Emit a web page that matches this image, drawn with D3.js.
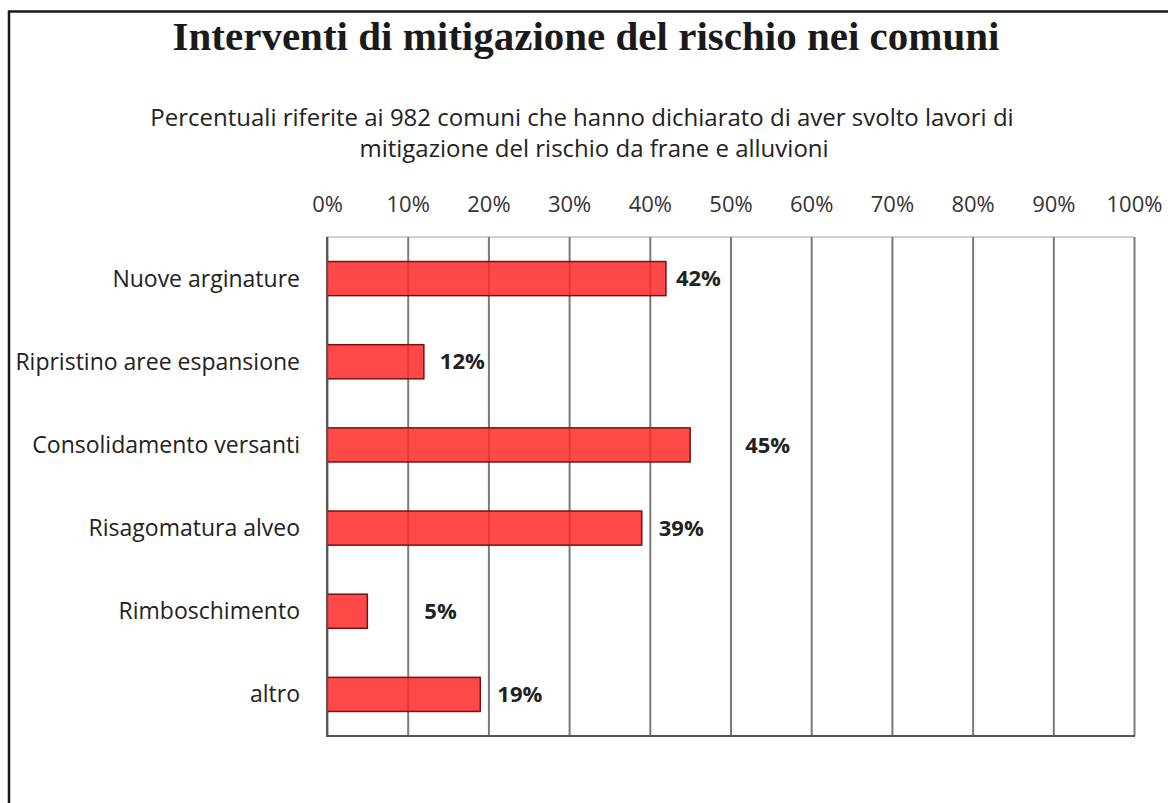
<!DOCTYPE html>
<html>
<head>
<meta charset="utf-8">
<script src="https://cdn.jsdelivr.net/npm/d3@7"></script>
<style>
  body { margin: 0; background: #fff; }
  svg { display: block; }
</style>
</head>
<body>
<svg id="chart"></svg>
<script>
// chart data
const categories = ["Nuove arginature", "Ripristino aree espansione", "Consolidamento versanti",
                    "Risagomatura alveo", "Rimboschimento", "altro"];
const values = [42, 12, 45, 39, 5, 19];
const tickValues = [0, 10, 20, 30, 40, 50, 60, 70, 80, 90, 100];

// label nudges to the right of each bar end (layout only)
const labelDx = [10, 16, 55, 17, 57, 17];

const width = 1168, height = 803;
const plot = { left: 327, right: 1134, top: 237, bottom: 736 };

const svg = d3.select("#chart")
    .attr("width", width)
    .attr("height", height);

svg.append("rect").attr("width", width).attr("height", height).attr("fill", "#fff");

// outer frame (left + top edge visible)
svg.append("path")
    .attr("d", `M9,${height + 5} L9,11.5 L${width + 5},11.5`)
    .attr("fill", "none")
    .attr("stroke", "#1a1a1a")
    .attr("stroke-width", 2.5);

// title
svg.append("text")
    .attr("x", 586)
    .attr("y", 50)
    .attr("text-anchor", "middle")
    .attr("font-family", "'Liberation Serif', serif")
    .attr("font-weight", "bold")
    .attr("font-size", 41)
    .attr("fill", "#1a1a1a")
    .text("Interventi di mitigazione del rischio nei comuni");

// subtitle
const sub = svg.append("text")
    .attr("text-anchor", "middle")
    .attr("font-family", "'Open Sans', sans-serif")
    .attr("font-size", 24)
    .attr("fill", "#222");
sub.append("tspan").attr("x", 582).attr("y", 126)
    .text("Percentuali riferite ai 982 comuni che hanno dichiarato di aver svolto lavori di");
sub.append("tspan").attr("x", 594).attr("y", 157)
    .text("mitigazione del rischio da frane e alluvioni");

// scales
const x = d3.scaleLinear()
    .domain([0, 100])
    .range([plot.left, plot.right]);

const y = d3.scaleBand()
    .domain(categories)
    .range([plot.top, plot.bottom])
    .paddingInner(0.59)
    .paddingOuter(0.295);

// top border of plot area
svg.append("line")
    .attr("x1", plot.left).attr("x2", plot.right)
    .attr("y1", plot.top).attr("y2", plot.top)
    .attr("stroke", "#d0d0d0")
    .attr("stroke-width", 2);

// vertical gridlines
svg.append("g")
    .attr("transform", `translate(0,${plot.bottom})`)
    .call(d3.axisBottom(x).tickValues(tickValues).tickSize(-(plot.bottom - plot.top)).tickFormat(""))
    .call(g => g.select(".domain").remove())
    .call(g => g.selectAll(".tick line")
        .attr("stroke", "#7a7a7a")
        .attr("stroke-width", 2));

// top tick labels
svg.append("g")
    .attr("transform", `translate(0,${plot.top})`)
    .call(d3.axisTop(x).tickValues(tickValues).tickSize(0).tickPadding(25).tickFormat(d => d + "%"))
    .call(g => g.select(".domain").remove())
    .call(g => g.selectAll("text")
        .attr("font-family", "'Open Sans', sans-serif")
        .attr("font-size", 22)
        .attr("fill", "#333"));

// bars
svg.append("g")
    .selectAll("rect")
    .data(values)
    .join("rect")
    .attr("x", x(0))
    .attr("y", (d, i) => y(categories[i]))
    .attr("width", d => x(d) - x(0))
    .attr("height", y.bandwidth())
    .attr("fill", "#ff2a2a")
    .attr("fill-opacity", 0.86)
    .attr("stroke", "#7a1010")
    .attr("stroke-width", 1.5);

// axes lines (left + bottom)
svg.append("line")
    .attr("x1", plot.left).attr("x2", plot.left)
    .attr("y1", plot.top).attr("y2", plot.bottom)
    .attr("stroke", "#555").attr("stroke-width", 2);
svg.append("line")
    .attr("x1", plot.left - 1).attr("x2", plot.right + 1)
    .attr("y1", plot.bottom).attr("y2", plot.bottom)
    .attr("stroke", "#555").attr("stroke-width", 2);

// category labels
svg.append("g")
    .selectAll("text")
    .data(categories)
    .join("text")
    .attr("x", 300)
    .attr("y", d => y(d) + y.bandwidth() / 2)
    .attr("dy", "0.35em")
    .attr("text-anchor", "end")
    .attr("font-family", "'Open Sans', sans-serif")
    .attr("font-size", 23)
    .attr("fill", "#222")
    .text(d => d);

// value labels
svg.append("g")
    .selectAll("text")
    .data(values)
    .join("text")
    .attr("x", (d, i) => x(d) + labelDx[i])
    .attr("y", (d, i) => y(categories[i]) + y.bandwidth() / 2)
    .attr("dy", "0.35em")
    .attr("font-family", "'Open Sans', sans-serif")
    .attr("font-weight", "bold")
    .attr("font-size", 22)
    .attr("fill", "#222")
    .text(d => d + "%");
</script>
</body>
</html>
